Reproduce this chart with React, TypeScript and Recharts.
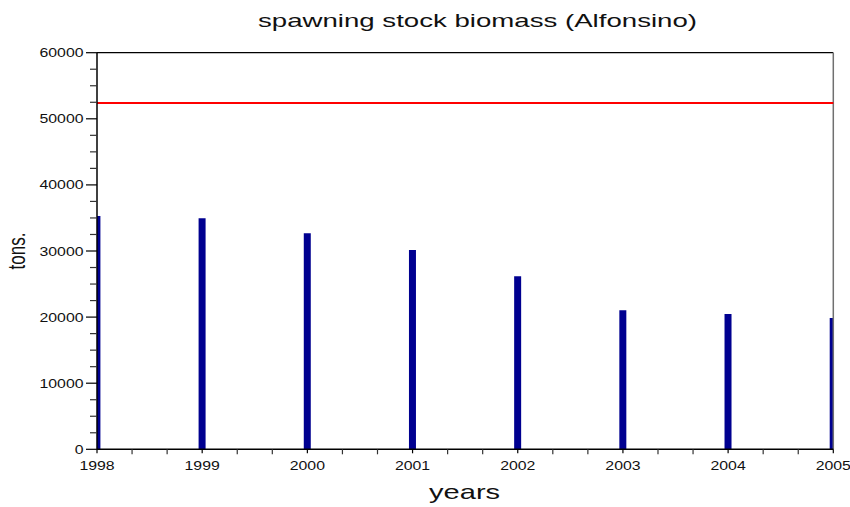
import React from 'react';
import { ComposedChart, Bar, XAxis, YAxis, ReferenceLine } from 'recharts';

const years = [1998, 1999, 2000, 2001, 2002, 2003, 2004, 2005];
const biomass = [35300, 34950, 32680, 30150, 26170, 21030, 20470, 19860];
const referenceLevel = 52400;
const yMajorTicks = [0, 10000, 20000, 30000, 40000, 50000, 60000];
const xMajorTicks = years;

const data = years.map((y, i) => ({ year: y, ssb: biomass[i] }));

const xTicks: number[] = [];
xMajorTicks.forEach((y, i) => {
  xTicks.push(y);
  if (i < xMajorTicks.length - 1) {
    xTicks.push(y + 1 / 3, y + 2 / 3);
  }
});
const yTicks: number[] = [];
yMajorTicks.forEach((v, i) => {
  yTicks.push(v);
  if (i < yMajorTicks.length - 1) {
    yTicks.push(v + 2500, v + 5000, v + 7500);
  }
});

const FONT = '"Liberation Sans", Arial, Helvetica, sans-serif';
const DIGIT_W = 8.8;

const XTick = (props: any) => {
  const { x, y, payload } = props;
  const v = payload.value;
  const major = Math.abs(v - Math.round(v)) < 1e-6;
  const label = String(Math.round(v));
  return (
    <g>
      <line x1={x} x2={x} y1={y} y2={y + (major ? 4 : 5)} stroke={major ? '#000' : '#333'} strokeWidth={1.2} />
      {major && (
        <text
          x={x}
          y={y + 21}
          textAnchor="middle"
          fontFamily={FONT}
          fontSize={12}
          fill="#111"
          textLength={label.length * DIGIT_W}
          lengthAdjust="spacingAndGlyphs"
        >
          {label}
        </text>
      )}
    </g>
  );
};

const YTick = (props: any) => {
  const { x, y, payload } = props;
  const v = payload.value;
  const major = v % 10000 === 0;
  const label = String(v);
  return (
    <g>
      <line x1={x - (major ? 11 : 7)} x2={x} y1={y} y2={y} stroke={major ? '#000' : '#333'} strokeWidth={1.2} />
      {major && (
        <text
          x={x - 13.5}
          y={y + 4.5}
          textAnchor="end"
          fontFamily={FONT}
          fontSize={12}
          fill="#111"
          textLength={label.length * DIGIT_W}
          lengthAdjust="spacingAndGlyphs"
        >
          {label}
        </text>
      )}
    </g>
  );
};

export default function App() {
  return (
    <div style={{ position: 'absolute', left: 0, top: 0, width: 850, height: 507, background: '#fff' }}>
      <ComposedChart
        width={850}
        height={507}
        data={data}
        margin={{ top: 52.7, right: 16.7, bottom: 0, left: 0 }}
      >
        <XAxis
          dataKey="year"
          type="number"
          domain={[1998, 2005]}
          ticks={xTicks}
          interval={0}
          allowDataOverflow
          height={57.7}
          tickSize={0}
          tickMargin={0}
          tickLine={false}
          axisLine={{ stroke: '#000', strokeWidth: 1.5 }}
          tick={<XTick />}
        />
        <YAxis
          type="number"
          domain={[0, 60000]}
          ticks={yTicks}
          interval={0}
          allowDataOverflow
          width={97}
          tickSize={0}
          tickMargin={0}
          tickLine={false}
          axisLine={{ stroke: '#000', strokeWidth: 1.5 }}
          tick={<YTick />}
        />
        <Bar dataKey="ssb" fill="#000090" barSize={7} isAnimationActive={false} />
        <ReferenceLine y={60000} stroke="#000" strokeWidth={1.2} />
        <ReferenceLine x={2005} stroke="#707070" strokeWidth={1.5} />
        <ReferenceLine y={referenceLevel} stroke="#ff0000" strokeWidth={2} />
      </ComposedChart>
      <svg
        width={850}
        height={507}
        style={{ position: 'absolute', left: 0, top: 0, pointerEvents: 'none' }}
      >
        <text
          x={477.5}
          y={27}
          textAnchor="middle"
          fontFamily={FONT}
          fontSize={19}
          fill="#111"
          textLength={439}
          lengthAdjust="spacingAndGlyphs"
        >
          spawning stock biomass (Alfonsino)
        </text>
        <text
          x={464.6}
          y={499}
          textAnchor="middle"
          fontFamily={FONT}
          fontSize={21}
          fill="#111"
          textLength={71}
          lengthAdjust="spacingAndGlyphs"
        >
          years
        </text>
        <g transform="translate(25,251) scale(1.45,1) rotate(-90)">
          <text
            x={0}
            y={0}
            textAnchor="middle"
            fontFamily={FONT}
            fontSize={17}
            fill="#111"
          >
            tons.
          </text>
        </g>
      </svg>
    </div>
  );
}
